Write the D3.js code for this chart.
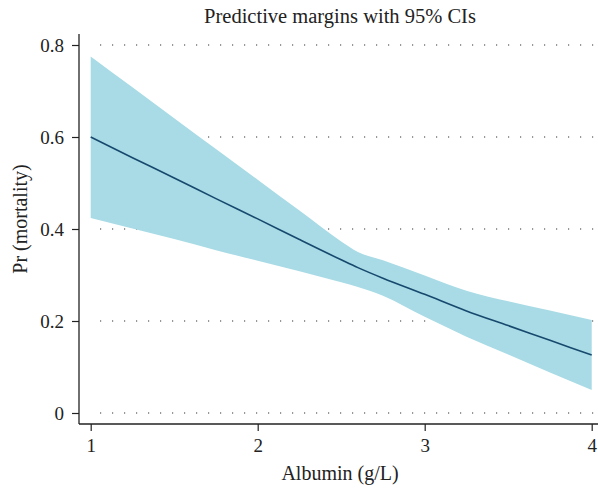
<!DOCTYPE html>
<html><head><meta charset="utf-8">
<script src="https://cdn.jsdelivr.net/npm/d3@7"></script>
<style>body{margin:0;background:#fff}svg{display:block}text{font-family:"Liberation Serif","Times New Roman",serif;fill:#222}</style>
</head><body><svg id="c" width="598" height="489"></svg>
<script>
const albumin = [1, 1.25, 1.5, 1.75, 2, 2.25, 2.5, 2.6, 2.75, 3, 3.25, 3.5, 3.75, 4];
const margin  = [0.600, 0.555, 0.511, 0.466, 0.422, 0.377, 0.333, 0.316, 0.293, 0.258, 0.222, 0.190, 0.158, 0.126];
const upper   = [0.775, 0.708, 0.641, 0.574, 0.507, 0.440, 0.373, 0.350, 0.332, 0.299, 0.266, 0.243, 0.223, 0.202];
const lower   = [0.424, 0.401, 0.378, 0.354, 0.331, 0.308, 0.284, 0.274, 0.255, 0.209, 0.166, 0.127, 0.088, 0.050];
const xTicks = [1, 2, 3, 4];
const yTicks = [0, 0.2, 0.4, 0.6, 0.8];
const yTickLabels = ["0", "0.2", "0.4", "0.6", "0.8"];

const svg = d3.select("#c");
const x = d3.scaleLinear().domain([1, 4]).range([90.7, 591.7]);
const y = d3.scaleLinear().domain([0, 0.8]).range([413, 45]);
const xl = 79, xr = 598, yb = 424, yt = 34;

// grid
svg.append("g").selectAll("line").data(yTicks).join("line")
  .attr("x1", 100).attr("x2", xr).attr("y1", d => y(d)).attr("y2", d => y(d))
  .attr("stroke", "#333").attr("stroke-width", 1.1).attr("stroke-dasharray", "1.2,10.8");

const pts = albumin.map((a, i) => ({a, m: margin[i], u: upper[i], l: lower[i]}));
svg.append("path").datum(pts)
  .attr("d", d3.area().x(d => x(d.a)).y0(d => y(d.l)).y1(d => y(d.u)).curve(d3.curveMonotoneX))
  .attr("fill", "#a8dbe5");
svg.append("path").datum(pts)
  .attr("d", d3.line().x(d => x(d.a)).y(d => y(d.m)).curve(d3.curveMonotoneX))
  .attr("fill", "none").attr("stroke", "#17496e").attr("stroke-width", 1.6);

// axes
const yAx = d3.axisLeft(y).tickValues(yTicks).tickFormat((d, i) => yTickLabels[i]).tickSize(7).tickPadding(8);
const gy = svg.append("g").attr("transform", `translate(${xl},0)`).call(yAx);
gy.select(".domain").remove();
gy.append("line").attr("x1", 0).attr("x2", 0).attr("y1", yt).attr("y2", yb).attr("stroke", "#222").attr("stroke-width", 1.3);
const xAx = d3.axisBottom(x).tickValues(xTicks).tickFormat(d3.format("d")).tickSize(7).tickPadding(8);
const gx = svg.append("g").attr("transform", `translate(0,${yb})`).call(xAx);
gx.select(".domain").remove();
gx.append("line").attr("x1", xl).attr("x2", xr).attr("y1", 0).attr("y2", 0).attr("stroke", "#222").attr("stroke-width", 1.3);
svg.selectAll(".tick line").attr("stroke", "#222").attr("stroke-width", 1.2);
svg.selectAll(".tick text").style("font-family", '"Liberation Serif",serif').style("font-size", "19px").attr("fill", "#222");

svg.append("text").attr("x", 340).attr("y", 23).attr("text-anchor", "middle").style("font-size", "20.5px").text("Predictive margins with 95% CIs");
svg.append("text").attr("x", 340).attr("y", 480).attr("text-anchor", "middle").style("font-size", "20px").text("Albumin (g/L)");
svg.append("text").attr("transform", "translate(27,219) rotate(-90)").attr("text-anchor", "middle").style("font-size", "20px").text("Pr (mortality)");
</script></body></html>
